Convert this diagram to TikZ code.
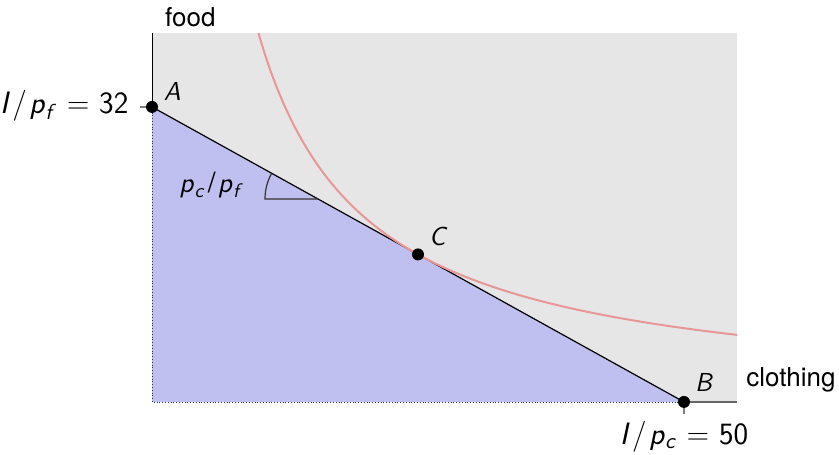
\documentclass[tikz,border=0pt]{standalone}
\usepackage{fontspec}
\setmainfont{TeX Gyre Heros}
\usetikzlibrary{positioning}
\definecolor{budget}{RGB}{192,192,240}
\definecolor{ruled}{RGB}{230,230,230}
\definecolor{indiff}{RGB}{232,150,150}
\newcommand{\mvar}[1]{\textsf{\itshape #1}}
\newcommand{\msub}[2]{\mvar{#1}\textsubscript{\mvar{#2}}}
\newcommand{\per}{\kern1.2pt/\kern1.2pt}

\begin{document}
\begin{tikzpicture}[x=5.32pt, y=4.61pt, font=\fontsize{13}{15}\selectfont,
 pt/.style={circle,fill=black,inner sep=0pt,minimum size=6pt},
 lbl/.style={inner sep=1pt},
 val/.style={inner sep=1pt,font=\fontsize{15.5}{18}\selectfont\sffamily},
 tick/.style={draw=gray,line width=.6pt}]
\useasboundingbox (-14.29,-5.75) rectangle (64.57,43.6);
\coordinate (O) at (0,0);
\coordinate (top) at (0,40);
\coordinate (right) at (55,0);
\coordinate (A) at (0,32);
\coordinate (B) at (50,0);
\coordinate (C) at (25,16);
\coordinate (V) at (15.6,22.02);
% regions
\fill[ruled] (O) rectangle (55,40);
\fill[budget] (A) -- (B) -- (O) -- cycle;
\draw[densely dotted,black!80] (A) -- (O) -- (B);
% axes
\draw[line width=.4pt] (top) -- (A);
\draw[black!60,line width=.8pt] (B) -- (right);
\draw[tick] (A) -- ++(-6pt,0);
\draw[tick] (B) -- ++(0,-6pt);
% budget line and indifference curve
\draw[line width=.6pt] (A) -- (B);
\draw[indiff,line width=1pt] plot[domain=10:55,samples=80] (\x,{400/\x});
% slope marker
\draw[black!80,line width=.6pt] (V) -- ++(-26.5pt,0) arc[start angle=180,end angle=151,radius=26.5pt];
\node[lbl,font=\fontsize{14}{16}\selectfont] (slope) at (5.6,23.5) {\msub{p}{c}\per\msub{p}{f}};
% points
\node[pt] (Adot) at (A) {};
\node[pt] (Bdot) at (B) {};
\node[pt] (Cdot) at (C) {};
\node[lbl] (Albl) at (1.9,33.7) {\mvar{A}};
\node[lbl] (Blbl) at (51.9,2.06) {\mvar{B}};
\node[lbl] (Clbl) at (26.9,17.9) {\mvar{C}};
\node[val,anchor=east] (Aval) at (-2,32.1) {\mvar{I}\per\msub{p}{f} = 32};
\node[val] (Bval) at (50,-3.75) {\mvar{I}\per\msub{p}{c} = 50};
% axis names
\node[lbl] (food) at (3.6,41.7) {food};
\node[lbl] (cloth) at (60.06,2.39) {clothing};
\end{tikzpicture}
\end{document}
